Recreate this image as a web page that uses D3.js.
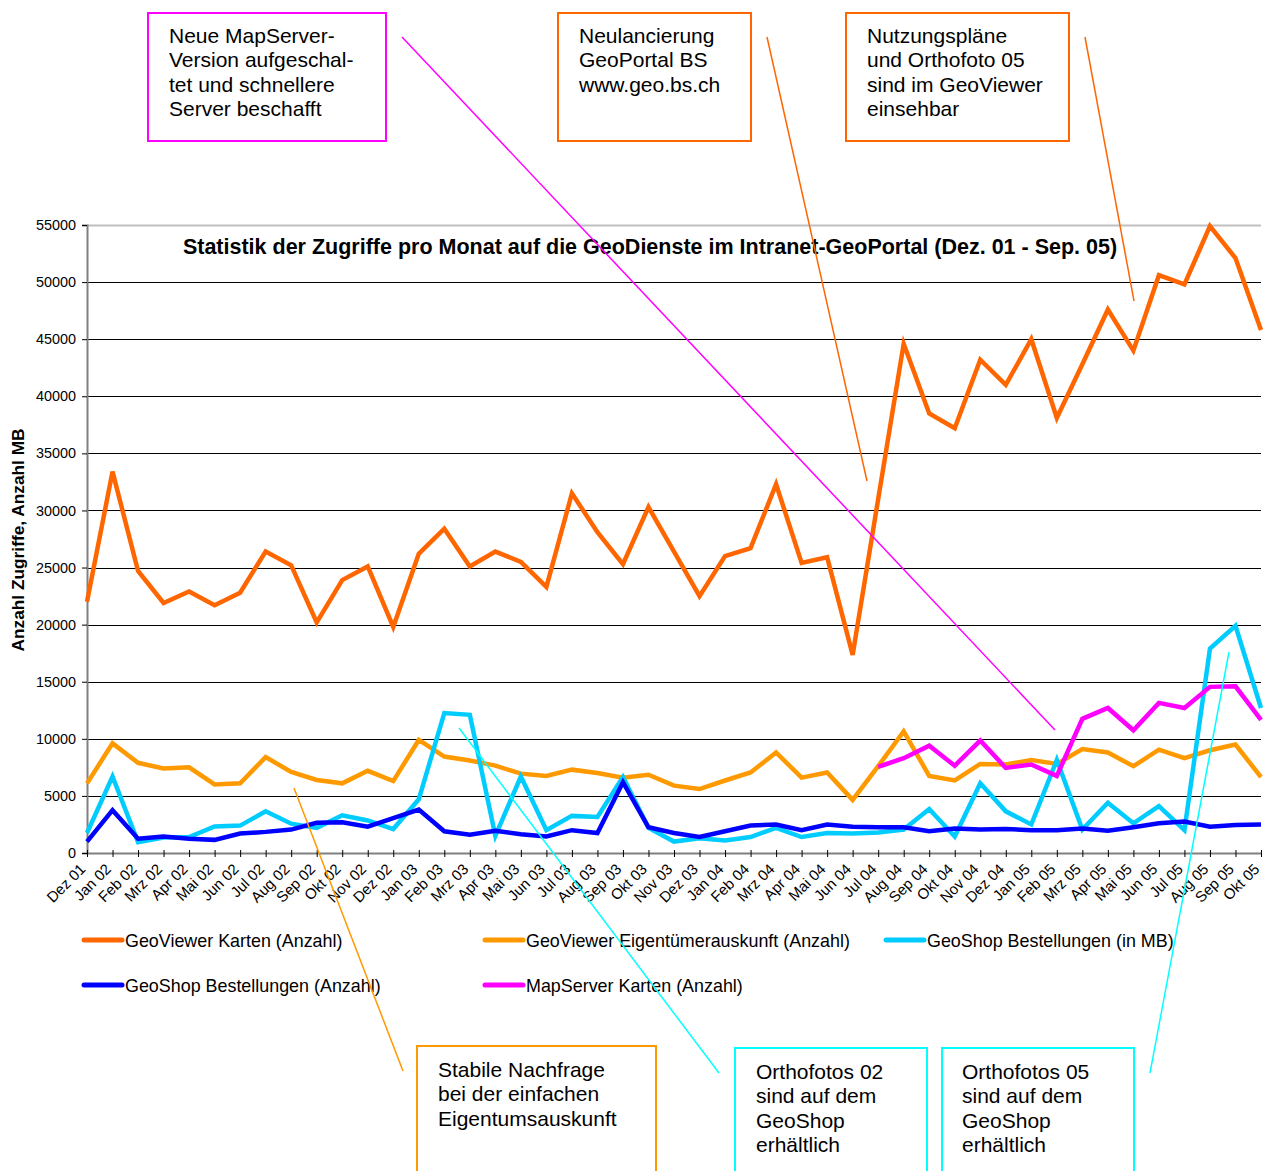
<!DOCTYPE html>
<html>
<head>
<meta charset="utf-8">
<script src="https://cdn.jsdelivr.net/npm/d3@7"></script>
<style>
  body { margin: 0; background: #fff; }
  svg { display: block; font-family: "Liberation Sans", Arial, sans-serif; }
</style>
</head>
<body>
<div id="chart"></div>
<script>
const months = ["Jan", "Feb", "Mrz", "Apr", "Mai", "Jun", "Jul", "Aug", "Sep", "Okt", "Nov", "Dez"];
const categories = ["Dez 01"]
  .concat(months.map((m) => m + " 02"))
  .concat(months.map((m) => m + " 03"))
  .concat(months.map((m) => m + " 04"))
  .concat(months.slice(0, 10).map((m) => m + " 05"));

const geoViewerKarten = [
  22000, 33400, 24700, 21900, 22900, 21700, 22800, 26400, 25200, 20200, 23900, 25100, 19800,
  26200, 28400, 25100, 26400, 25500, 23300, 31500, 28100, 25300, 30300, 26400, 22500,
  26000, 26700, 32300, 25400, 25900, 17350, 31000, 44600, 38500, 37200, 43200, 41000,
  45000, 38100, 42800, 47600, 44000, 50600, 49800, 54900, 52100, 45800
];
const geoViewerEigentuemer = [
  6100, 9600, 7900, 7400, 7500, 6000, 6100, 8400, 7100, 6400, 6100, 7200, 6300,
  9900, 8450, 8100, 7650, 6950, 6750, 7300, 7000, 6600, 6850, 5900, 5600,
  6350, 7050, 8800, 6600, 7050, 4650, 7600, 10650, 6750, 6350, 7800, 7750,
  8150, 7800, 9100, 8800, 7600, 9050, 8300, 9000, 9500, 6650
];
const geoShopMB = [
  1750, 6700, 950, 1350, 1400, 2330, 2400, 3650, 2570, 2200, 3300, 2850, 2100,
  4700, 12250, 12100, 1500, 6700, 2000, 3250, 3150, 6650, 2200, 1000, 1300,
  1100, 1400, 2200, 1400, 1750, 1700, 1800, 2050, 3850, 1450, 6100, 3650,
  2500, 8150, 2050, 4400, 2600, 4100, 2000, 17900, 19900, 12700
];
const geoShopAnzahl = [
  1000, 3750, 1250, 1450, 1250, 1150, 1700, 1850, 2050, 2650, 2700, 2300, 3050,
  3800, 1900, 1600, 1950, 1650, 1450, 2000, 1750, 6200, 2250, 1750, 1400,
  1900, 2400, 2500, 2000, 2500, 2300, 2250, 2250, 1900, 2150, 2050, 2100,
  2000, 2000, 2150, 1950, 2250, 2600, 2750, 2300, 2450, 2500
];
// MapServer data starts at "Jul 04"
const mapServerStart = "Jul 04";
const mapServerKarten = [7550, 8300, 9400, 7650, 9850, 7450, 7750, 6750, 11750, 12700, 10750, 13150, 12700, 14550, 14600, 11650];

const yTicks = [0, 5000, 10000, 15000, 20000, 25000, 30000, 35000, 40000, 45000, 50000, 55000];

const title = "Statistik der Zugriffe pro Monat auf die GeoDienste im Intranet-GeoPortal (Dez. 01 - Sep. 05)";
const yTitle = "Anzahl Zugriffe, Anzahl MB";

const startIdx = categories.indexOf(mapServerStart);
const series = [
  { name: "GeoViewer Karten (Anzahl)", color: "#ff6600", values: geoViewerKarten.map((v, i) => [categories[i], v]) },
  { name: "GeoViewer Eigentümerauskunft (Anzahl)", color: "#ff9900", values: geoViewerEigentuemer.map((v, i) => [categories[i], v]) },
  { name: "GeoShop Bestellungen (in MB)", color: "#00ccff", values: geoShopMB.map((v, i) => [categories[i], v]) },
  { name: "GeoShop Bestellungen (Anzahl)", color: "#0000ff", values: geoShopAnzahl.map((v, i) => [categories[i], v]) },
  { name: "MapServer Karten (Anzahl)", color: "#ff00ff", values: mapServerKarten.map((v, i) => [categories[startIdx + i], v]) },
];

const width = 1266;
const height = 1171;
const plot = { left: 87, right: 1261, top: 225, bottom: 853 };

const svg = d3.select("#chart").append("svg")
  .attr("width", width)
  .attr("height", height);

const x = d3.scalePoint().domain(categories).range([plot.left, plot.right]);
const y = d3.scaleLinear().domain([0, 55000]).range([plot.bottom, plot.top]);

// gridlines
svg.append("g")
  .selectAll("line")
  .data(yTicks.filter((d) => d > 0))
  .join("line")
  .attr("x1", plot.left)
  .attr("x2", plot.right)
  .attr("y1", (d) => Math.round(y(d)) + 0.5)
  .attr("y2", (d) => Math.round(y(d)) + 0.5)
  .attr("stroke", (d) => (d === 55000 ? "#c0c0c0" : "#000"))
  .attr("stroke-width", (d) => (d === 55000 ? 2 : 1));

// y axis
const yAxis = svg.append("g")
  .attr("transform", `translate(${plot.left},0)`)
  .call(d3.axisLeft(y).tickValues(yTicks).tickSize(5).tickPadding(6).tickFormat(d3.format("d")));
yAxis.select(".domain").attr("stroke", "#808080").attr("stroke-width", 2);
yAxis.selectAll(".tick line").attr("stroke", "#000");
yAxis.selectAll(".tick text")
  .attr("font-size", 14.4)
  .attr("fill", "#000")
  .attr("font-family", "Liberation Sans, Arial, sans-serif");

// x axis
const xAxis = svg.append("g")
  .attr("transform", `translate(0,${plot.bottom})`)
  .call(d3.axisBottom(x).tickSize(0).tickPadding(0));
xAxis.select(".domain").attr("stroke", "#808080").attr("stroke-width", 2);
xAxis.selectAll(".tick").append("line")
  .attr("y1", -3)
  .attr("y2", 4)
  .attr("stroke", "#000");
xAxis.selectAll(".tick text")
  .attr("font-size", 15)
  .attr("fill", "#000")
  .attr("font-family", "Liberation Sans, Arial, sans-serif")
  .attr("text-anchor", "end")
  .attr("dy", null)
  .attr("transform", "translate(-1,17) rotate(-45)");

// series lines
const line = d3.line()
  .x((d) => x(d[0]))
  .y((d) => y(d[1]));

svg.append("g")
  .selectAll("path")
  .data(series)
  .join("path")
  .attr("fill", "none")
  .attr("stroke", (d) => d.color)
  .attr("stroke-width", 4.5)
  .attr("stroke-linejoin", "miter")
  .attr("d", (d) => line(d.values));

// title
svg.append("text")
  .attr("x", 650)
  .attr("y", 254)
  .attr("text-anchor", "middle")
  .attr("font-size", 21.5)
  .attr("font-weight", "bold")
  .text(title);

// y axis title
svg.append("text")
  .attr("transform", "translate(24,540) rotate(-90)")
  .attr("text-anchor", "middle")
  .attr("font-size", 17.3)
  .attr("font-weight", "bold")
  .text(yTitle);

// legend
const legendPos = [
  { x: 82, y: 940 },
  { x: 483, y: 940 },
  { x: 884, y: 940 },
  { x: 82, y: 985 },
  { x: 483, y: 985 },
];
const legend = svg.append("g")
  .selectAll("g")
  .data(series)
  .join("g")
  .attr("transform", (d, i) => `translate(${legendPos[i].x},${legendPos[i].y})`);
legend.append("line")
  .attr("x1", 2)
  .attr("x2", 40)
  .attr("stroke", (d) => d.color)
  .attr("stroke-width", 5)
  .attr("stroke-linecap", "round");
legend.append("text")
  .attr("x", 43)
  .attr("y", 6.5)
  .attr("font-size", 17.9)
  .text((d) => d.name);

// annotations
const notes = [
  { box: [148, 13, 238, 128], color: "#ff00ff", lines: ["Neue MapServer-", "Version aufgeschal-", "tet und schnellere", "Server beschafft"], tx: 169, ty: 43, pointer: [[402, 37], [1055, 730]] },
  { box: [558, 13, 193, 128], color: "#ff6600", lines: ["Neulancierung", "GeoPortal BS", "www.geo.bs.ch"], tx: 579, ty: 43, pointer: [[767, 37], [867, 481]] },
  { box: [846, 13, 223, 128], color: "#ff6600", lines: ["Nutzungspläne", "und Orthofoto 05", "sind im GeoViewer", "einsehbar"], tx: 867, ty: 43, pointer: [[1085, 37], [1134, 301]] },
  { box: [417, 1046, 239, 140], color: "#ff9900", lines: ["Stabile Nachfrage", "bei der einfachen", "Eigentumsauskunft"], tx: 438, ty: 1077, pointer: [[294, 788], [403, 1071]] },
  { box: [735, 1048, 192, 140], color: "#00ffff", lines: ["Orthofotos 02", "sind auf dem", "GeoShop", "erhältlich"], tx: 756, ty: 1079, pointer: [[459, 728], [719, 1073]] },
  { box: [942, 1048, 192, 140], color: "#00ffff", lines: ["Orthofotos 05", "sind auf dem", "GeoShop", "erhältlich"], tx: 962, ty: 1079, pointer: [[1229, 652], [1150, 1073]] },
];

const noteG = svg.append("g")
  .selectAll("g")
  .data(notes)
  .join("g");
noteG.append("rect")
  .attr("x", (d) => d.box[0])
  .attr("y", (d) => d.box[1])
  .attr("width", (d) => d.box[2])
  .attr("height", (d) => d.box[3])
  .attr("fill", "#fff")
  .attr("stroke", (d) => d.color)
  .attr("stroke-width", 2);
noteG.append("text")
  .attr("font-size", 21)
  .selectAll("tspan")
  .data((d) => d.lines.map((t, i) => ({ t, x: d.tx, y: d.ty + i * 24.3 })))
  .join("tspan")
  .attr("x", (d) => d.x)
  .attr("y", (d) => d.y)
  .text((d) => d.t);
noteG.append("line")
  .attr("x1", (d) => d.pointer[0][0])
  .attr("y1", (d) => d.pointer[0][1])
  .attr("x2", (d) => d.pointer[1][0])
  .attr("y2", (d) => d.pointer[1][1])
  .attr("stroke", (d) => d.color)
  .attr("stroke-width", 1.5);
</script>
</body>
</html>
